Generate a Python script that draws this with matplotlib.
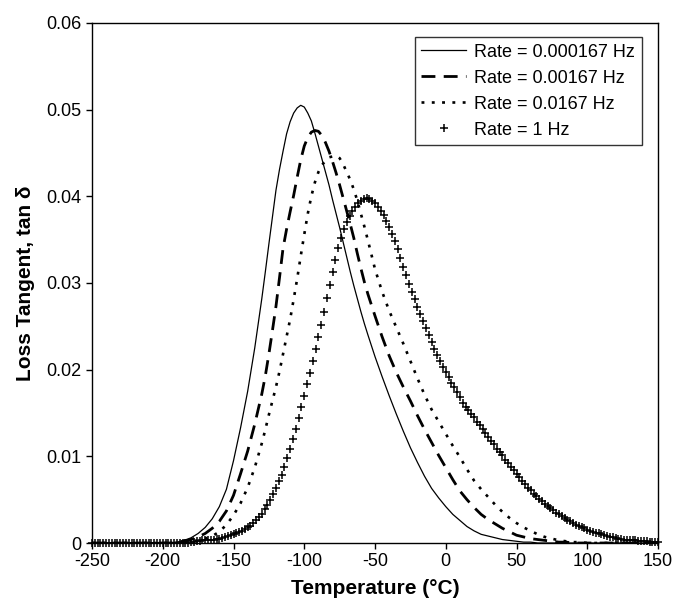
import matplotlib
matplotlib.use("Agg")
import matplotlib.pyplot as plt
import numpy as np

plt.rcParams['font.family'] = ['Liberation Sans', 'DejaVu Sans']
plt.rcParams['axes.unicode_minus'] = False

# temperature grid for the three line series: 5 degC steps, 2.5 degC around the peaks
temp_line = np.concatenate([np.arange(-250, -134, 5),
                            np.arange(-130, -54, 2.5),
                            np.arange(-50, 151, 5)])

rate_000167 = [
    0, 0, 0, 0, 0, 0, 0, 0, 0, 0, 0, 0,
    0.0001, 0.0003, 0.0006, 0.0011, 0.0018, 0.0028, 0.0042, 0.0062, 0.0095, 0.0133,
    0.0175, 0.0225,
    0.0282, 0.0313, 0.0345, 0.0376, 0.0407, 0.0431, 0.0452, 0.0472, 0.0486, 0.0496,
    0.0502, 0.0505, 0.0503, 0.0496, 0.0487, 0.0473, 0.0458, 0.0443, 0.0428, 0.0413,
    0.0396, 0.0380, 0.0364, 0.0347, 0.0330, 0.0313, 0.0297, 0.0282, 0.0267, 0.0253,
    0.0240,
    0.0215, 0.0192, 0.0170, 0.0149, 0.0129, 0.0110, 0.0093, 0.0077, 0.0063, 0.0052,
    0.0042, 0.0033, 0.0026, 0.0019, 0.0014, 0.0010, 0.0008, 0.0006, 0.0004, 0.0003,
    0.0002, 0.0001, 0.0001,
    0, 0, 0, 0, 0, 0, 0, 0, 0, 0, 0, 0, 0, 0, 0, 0, 0, 0,
]

rate_00167 = [
    0, 0, 0, 0, 0, 0, 0, 0, 0, 0, 0, 0,
    0.0001, 0.0002, 0.0004, 0.0007, 0.0011, 0.0017, 0.0025, 0.0037, 0.0055, 0.0080,
    0.0106, 0.0137,
    0.0172, 0.0193, 0.0218, 0.0245, 0.0273, 0.0306, 0.0340, 0.0362, 0.0382, 0.0401,
    0.0422, 0.0442, 0.0458, 0.0468, 0.0474, 0.0476, 0.0475, 0.0470, 0.0462, 0.0452,
    0.0440, 0.0427, 0.0413, 0.0398, 0.0383, 0.0368, 0.0352, 0.0334, 0.0317, 0.0301,
    0.0287,
    0.0262, 0.0238, 0.0216, 0.0197, 0.0180, 0.0164, 0.0147, 0.0131, 0.0116, 0.0101,
    0.0087, 0.0073, 0.0060, 0.0050, 0.0041, 0.0033, 0.0027, 0.0022, 0.0017, 0.0013,
    0.0009, 0.0007, 0.0005, 0.0004, 0.0003, 0.0002, 0.0001, 0.0001,
    0, 0, 0, 0, 0, 0, 0, 0, 0, 0, 0, 0, 0,
]

rate_0167 = [
    0, 0, 0, 0, 0, 0, 0, 0, 0, 0, 0, 0, 0,
    0.0001, 0.0002, 0.0003, 0.0005, 0.0008, 0.0013, 0.0021, 0.0032, 0.0046, 0.0064,
    0.0087,
    0.0115, 0.0131, 0.0148, 0.0164, 0.0180, 0.0198, 0.0218, 0.0238, 0.0258, 0.0281,
    0.0305, 0.0331, 0.0356, 0.0380, 0.0400, 0.0416, 0.0428, 0.0436, 0.0441, 0.0445,
    0.0446, 0.0447, 0.0444, 0.0437, 0.0428, 0.0419, 0.0408, 0.0395, 0.0380, 0.0365,
    0.0349,
    0.0316, 0.0290, 0.0268, 0.0249, 0.0230, 0.0210, 0.0190, 0.0171, 0.0154, 0.0140,
    0.0126, 0.0112, 0.0099, 0.0085, 0.0072, 0.0062, 0.0053, 0.0044, 0.0036, 0.0029,
    0.0023, 0.0018, 0.0014, 0.0010, 0.0007, 0.0005, 0.0003, 0.0002, 0.0001, 0.0001,
    0, 0, 0, 0, 0, 0, 0, 0, 0, 0, 0,
]

# the 1 Hz series is plotted point by point (2 degC steps)
temp_1hz = np.arange(-250, 151, 2)

rate_1 = [
    0, 0, 0, 0, 0, 0, 0, 0, 0, 0, 0, 0, 0, 0, 0, 0, 0, 0,
    0, 0, 0, 0, 0, 0, 0, 0, 0, 0, 0, 0, 0, 0, 0, 0, 0,
    0.0001, 0.0001, 0.0002, 0.0002, 0.0003, 0.0003, 0.0003, 0.0004, 0.0004, 0.0005,
    0.0005, 0.0006, 0.0007, 0.0008, 0.0009, 0.0010, 0.0011, 0.0013, 0.0014, 0.0016,
    0.0018, 0.0020, 0.0023, 0.0026, 0.0030, 0.0034, 0.0039, 0.0044, 0.0050, 0.0057,
    0.0064, 0.0071, 0.0079, 0.0088, 0.0098, 0.0109, 0.0120, 0.0132, 0.0144, 0.0157,
    0.0170, 0.0183, 0.0196, 0.0210, 0.0224, 0.0238, 0.0252, 0.0267, 0.0283, 0.0298,
    0.0313, 0.0327, 0.0340, 0.0352, 0.0362, 0.0370, 0.0377, 0.0383, 0.0388, 0.0392,
    0.0395, 0.0397, 0.0398, 0.0397, 0.0395, 0.0392, 0.0388, 0.0383, 0.0378, 0.0372,
    0.0365, 0.0357, 0.0348, 0.0339, 0.0329, 0.0319, 0.0309, 0.0299, 0.0290, 0.0281,
    0.0272, 0.0264, 0.0256, 0.0248, 0.0240, 0.0232, 0.0224, 0.0217, 0.0210, 0.0203,
    0.0197, 0.0191, 0.0185, 0.0180, 0.0174, 0.0168, 0.0162, 0.0157, 0.0153, 0.0149,
    0.0145, 0.0140, 0.0136, 0.0131, 0.0127, 0.0122, 0.0118, 0.0114, 0.0109, 0.0105,
    0.0101, 0.0096, 0.0092, 0.0088, 0.0084, 0.0080, 0.0076, 0.0072, 0.0068, 0.0064,
    0.0061, 0.0057, 0.0054, 0.0051, 0.0048, 0.0045, 0.0043, 0.0040, 0.0038, 0.0035,
    0.0033, 0.0031, 0.0029, 0.0027, 0.0025, 0.0023, 0.0021, 0.0020, 0.0018, 0.0017,
    0.0015, 0.0014, 0.0013, 0.0012, 0.0011, 0.0010, 0.0009, 0.0008, 0.0007, 0.0007,
    0.0006, 0.0005, 0.0005, 0.0004, 0.0004, 0.0003, 0.0003, 0.0003, 0.0002, 0.0002,
    0.0002, 0.0002, 0.0001, 0.0001, 0.0001, 0.0001,
]

labels = ["Rate = 0.000167 Hz", "Rate = 0.00167 Hz", "Rate = 0.0167 Hz", "Rate = 1 Hz"]
x_ticks = np.arange(-250, 151, 50)
y_ticks = np.arange(0, 0.061, 0.01)

fig = plt.figure(figsize=(6.74, 6.03), dpi=100)
ax = fig.add_axes([0.1365, 0.0995, 0.8398, 0.8624])

ax.plot(temp_line, rate_000167, color='black', lw=0.9, label=labels[0])
ax.plot(temp_line, rate_00167, color='black', lw=2.0, dashes=(5, 3), label=labels[1])
ax.plot(temp_line, rate_0167, color='black', lw=1.9, dashes=(1.1, 2.8), label=labels[2])
ax.plot(temp_1hz, rate_1, ls='none', marker='+', ms=6, mew=1.1, color='black',
        label=labels[3], clip_on=False)

ax.set_xlim(-250, 150)
ax.set_ylim(0, 0.06)
ax.set_xticks(x_ticks)
ax.set_yticks(y_ticks)
ax.set_yticklabels(['0' if v == 0 else f'{v:.2f}' for v in y_ticks])
ax.tick_params(direction='out', length=4, width=1, labelsize=13, top=False, right=False)
for s in ax.spines.values():
    s.set_linewidth(1.0)

ax.set_xlabel("Temperature (°C)", fontsize=15, fontweight='bold', labelpad=6)
ax.set_ylabel("Loss Tangent, tan δ", fontsize=15, fontweight='bold', labelpad=8)

leg = ax.legend(loc='upper right', bbox_to_anchor=(0.971, 0.9725), borderaxespad=0,
                fontsize=13, frameon=True, fancybox=False, edgecolor='black',
                handlelength=2.5, handletextpad=0.45, labelspacing=0.5,
                borderpad=0.35, numpoints=1)
leg.get_frame().set_linewidth(1.0)

plt.savefig("out.png", dpi=100)
